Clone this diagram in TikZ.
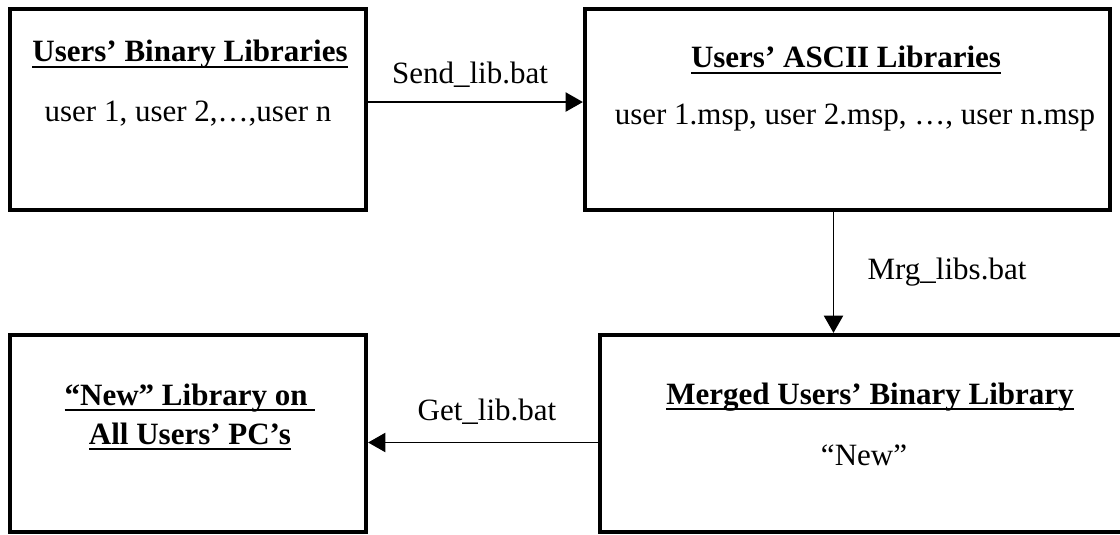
\documentclass[tikz,border=0pt]{standalone}
\usepackage{fontspec}
\setmainfont{Liberation Serif}
\usetikzlibrary{arrows.meta,fit}
\newcommand{\libul}[1]{\setbox0\hbox{#1}\rlap{\rule[-4.6pt]{\wd0}{1.8pt}}\box0}

\begin{document}
\begin{tikzpicture}[x=0.75pt, y=-0.75pt,
    libbox/.style={draw, line width=3.2pt, inner sep=0pt},
    link/.style={line width=1.1pt, -{Triangle[length=13pt, width=14.5pt]}},
    every node/.style={font=\fontsize{23.25pt}{29.25pt}\selectfont}]
    \useasboundingbox (0,0) rectangle (1120,535);
    % Users' binary libraries
    \node [libbox, fit={(10,9) (366,210)}] (binlib) {};
    \node [anchor=base] (binhead) at (190,62) {\textbf{\libul{Users’ Binary Libraries}}};
    \node [anchor=base] (binusers) at (188,121) {user 1, user 2,…,user n};
    % Users' ASCII libraries
    \node [libbox, fit={(585,9) (1110,210)}] (asclib) {};
    \node [anchor=base] (aschead) at (846,68) {\textbf{\libul{Users’ ASCII Libraries}}};
    \node [anchor=base] (ascusers) at (855,124) {user 1.msp, user 2.msp, …, user n.msp};
    % Merged library
    \node [libbox, fit={(600,335) (1141,532)}] (mrglib) {};
    \node [anchor=base] (mrghead) at (870,404) {\textbf{\libul{Merged Users’ Binary Library}}};
    \node [anchor=base] (mrgname) at (864,465) {“New”};
    % New library on the PCs
    \node [libbox, fit={(10,335) (366,532)}] (newlib) {};
    \node [align=center] (newhead) at (190,417) {\textbf{\libul{“New” Library on\ }}\\ \textbf{\libul{All Users’ PC’s}}};
    % Batch files
    \draw [link] ([yshift=5.6pt]binlib.east) -- ([yshift=5.6pt]asclib.west);
    \node [anchor=base] (sendbat) at (470,84) {Send\_lib.bat};
    \draw [link] ([xshift=-10.5pt]asclib.south) -- ([xshift=-10.5pt]asclib.south |- mrglib.north);
    \node [anchor=base] (mrgbat) at (947,279) {Mrg\_libs.bat};
    \draw [link] ([yshift=-6.75pt]mrglib.west) -- ([yshift=-6.75pt]newlib.east);
    \node [anchor=base] (getbat) at (487,420) {Get\_lib.bat};
\end{tikzpicture}
\end{document}
